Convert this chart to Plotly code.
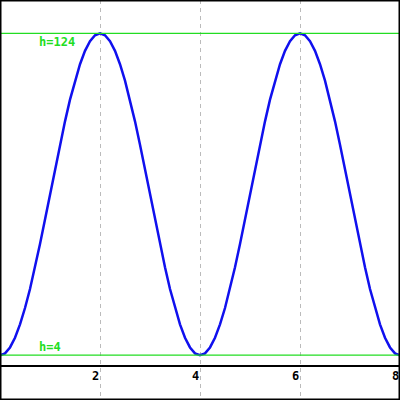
import plotly.graph_objects as go

x_vals = [round(i * 0.1, 1) for i in range(81)]
rise = [4.0, 4.7, 6.9, 10.5, 15.5, 21.6, 28.7, 36.8, 45.5, 54.6, 64.0,
        73.4, 82.5, 91.2, 99.3, 106.4, 112.5, 117.5, 121.1, 123.3, 124.0]
fall = [123.3, 121.1, 117.5, 112.5, 106.4, 99.3, 91.2, 82.5, 73.4, 64.0,
        54.6, 45.5, 36.8, 28.7, 21.6, 15.5, 10.5, 6.9, 4.7, 4.0]
h_vals = rise + fall + rise[1:] + fall

level_values = [124, 4]
level_labels = ["h=124", "h=4"]
level_anchor = ["top", "bottom"]

tick_values = [2, 4, 6, 8]
tick_labels = ["2", "4", "6", "8"]

fig = go.Figure()
fig.add_trace(go.Scatter(x=x_vals, y=h_vals, mode="lines",
                         line=dict(color="#1010ee", width=2.5),
                         hoverinfo="skip", showlegend=False))

shapes = []
annotations = []
for v, lab, anc in zip(level_values, level_labels, level_anchor):
    shapes.append(dict(type="line", xref="paper", x0=0, x1=1, yref="y", y0=v, y1=v,
                       line=dict(color="#22dd22", width=1.3), layer="above"))
    annotations.append(dict(xref="paper", x=0.095, yref="y", y=v, text=lab,
                            showarrow=False, xanchor="left", yanchor=anc,
                            yshift=(-1 if anc == "top" else 0),
                            borderpad=0,
                            font=dict(family="DejaVu Sans Mono", size=12, color="#22dd22",
                                      weight="bold")))
for t, lab in zip(tick_values, tick_labels):
    annotations.append(dict(xref="x", x=t, yref="y", y=0, text=lab, showarrow=False,
                            xanchor="right", yanchor="top", yshift=-2, borderpad=0,
                            font=dict(family="DejaVu Sans Mono", size=12, color="black",
                                      weight="bold")))
shapes.append(dict(type="rect", xref="paper", yref="paper", x0=0, x1=1, y0=0, y1=1,
                   line=dict(color="black", width=3), layer="above"))

fig.update_layout(
    width=400, height=400,
    margin=dict(l=0, r=0, t=0, b=0),
    paper_bgcolor="white", plot_bgcolor="white",
    shapes=shapes, annotations=annotations,
    xaxis=dict(range=[0, 8], tickvals=tick_values, showticklabels=False,
               showgrid=True, gridcolor="#bbbbbb", gridwidth=1, griddash="4px,4px",
               zeroline=False, showline=False, ticks=""),
    yaxis=dict(range=[-12.7, 136.45], showticklabels=False, showgrid=False,
               zeroline=True, zerolinecolor="black", zerolinewidth=1.5,
               showline=False, ticks=""),
)
fig.write_html("out.html", config={"displayModeBar": False},
               post_script="document.body.style.margin='0';document.body.style.overflow='hidden';")
